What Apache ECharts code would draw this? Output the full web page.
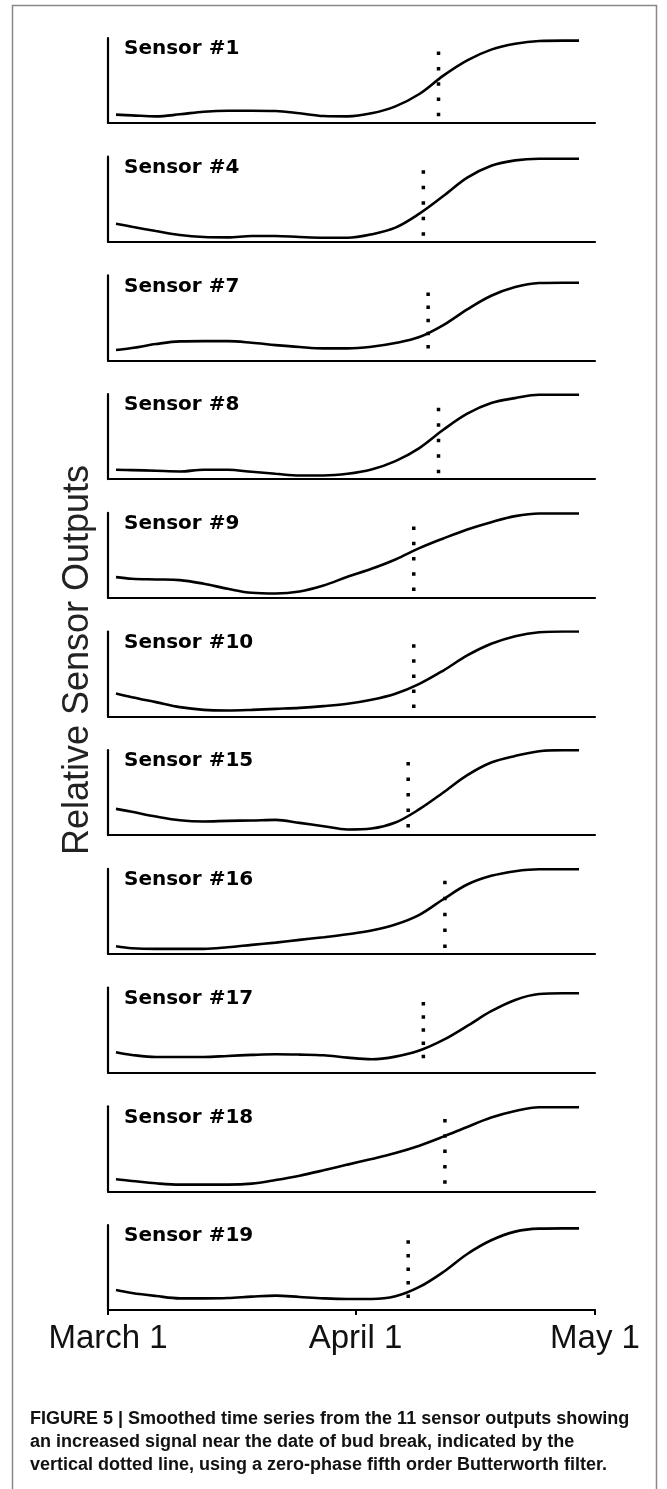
<!doctype html>
<html>
<head>
<meta charset="utf-8">
<title>Figure 5</title>
<style>
  body { margin: 0; background: #fff; }
  #chart { width: 667px; height: 1489px; }
</style>
</head>
<body>
<div id="chart"></div>
<script src="https://cdn.jsdelivr.net/npm/echarts@6/dist/echarts.min.js"></script>
<script>
// days since March 1 at which the curves were read
var sampleDays = [1, 3, 6, 9, 12, 15, 18, 21, 24, 27, 30, 33, 36, 39, 42, 45, 48, 51, 54, 57, 59];

var sensorNames = ['Sensor #1', 'Sensor #4', 'Sensor #7', 'Sensor #8', 'Sensor #9', 'Sensor #10',
    'Sensor #15', 'Sensor #16', 'Sensor #17', 'Sensor #18', 'Sensor #19'];

// relative output, 0 = x axis, 100 = top of y axis
var sensor1  = [9.8, 9.0, 7.8, 10.2, 13.3, 14.5, 14.5, 14.1, 11.4, 8.2, 7.8, 11.4, 19.6, 34.1, 55.7, 73.7, 86.3, 93.3, 96.5, 96.9, 96.9];
var sensor4  = [21.2, 17.6, 12.5, 7.8, 5.5, 5.1, 6.7, 6.7, 5.5, 4.7, 4.7, 8.6, 16.5, 33.0, 53.7, 75.3, 89.4, 95.7, 97.6, 97.6, 97.6];
var sensor7  = [12.2, 14.5, 19.2, 22.4, 22.7, 22.7, 20.8, 18.0, 15.7, 14.1, 14.1, 16.1, 20.4, 27.5, 41.6, 60.0, 76.0, 86.3, 91.0, 91.4, 91.4];
var sensor8  = [11.0, 10.6, 9.8, 9.0, 11.0, 11.0, 8.6, 6.3, 4.3, 4.3, 6.3, 11.4, 21.2, 36.5, 58.0, 76.9, 89.4, 95.3, 99.2, 99.2, 99.2];
var sensor9  = [24.3, 22.4, 21.6, 20.8, 16.5, 10.6, 5.9, 5.1, 7.5, 14.5, 24.7, 34.1, 45.1, 58.4, 69.8, 80.4, 89.0, 96.1, 99.2, 99.2, 99.2];
var sensor10 = [27.1, 22.7, 16.9, 11.0, 7.8, 7.1, 7.8, 9.0, 10.2, 12.2, 14.9, 19.6, 26.7, 38.4, 54.1, 71.8, 85.5, 94.5, 99.2, 100, 100];
var sensor15 = [31.0, 27.5, 22.0, 17.6, 16.1, 16.9, 17.3, 18.0, 14.5, 10.6, 6.7, 7.8, 14.9, 30.6, 50.2, 70.6, 85.5, 93.3, 98.8, 100, 100];
var sensor16 = [9.0, 6.7, 5.9, 5.9, 5.9, 7.8, 10.6, 13.3, 16.5, 19.6, 23.1, 27.5, 34.5, 45.9, 64.3, 81.6, 91.8, 97.3, 99.6, 99.6, 99.6];
var sensor17 = [23.9, 20.8, 18.4, 18.4, 18.4, 19.6, 20.8, 21.6, 21.2, 20.4, 17.6, 15.7, 18.8, 25.9, 38.4, 54.9, 72.2, 85.5, 92.5, 93.3, 93.3];
var sensor18 = [14.1, 12.2, 9.4, 7.8, 7.8, 7.8, 9.0, 13.3, 18.4, 24.7, 31.4, 38.0, 45.1, 53.7, 64.3, 75.7, 86.7, 94.5, 98.8, 98.8, 98.8];
var sensor19 = [23.5, 20.0, 16.5, 13.7, 13.7, 14.1, 15.7, 16.9, 15.3, 13.7, 12.9, 12.9, 16.1, 27.1, 44.7, 65.9, 82.0, 92.2, 95.7, 96.0, 96.0];
var sensorValues = [sensor1, sensor4, sensor7, sensor8, sensor9, sensor10, sensor15, sensor16, sensor17, sensor18, sensor19];

// bud break date (days since March 1) and the extent of the dotted marker
var budBreakDays = [41.4, 39.5, 40.1, 41.4, 38.3, 38.3, 37.6, 42.2, 39.5, 42.2, 37.6];
var dotTop    = [84, 84, 80, 84, 84, 85, 86, 86, 83, 85, 82];
var dotBottom = [8, 7, 14, 7, 8, 10, 9, 7, 17, 9, 14];

var dateTicks = [0, 31, 61];
var dateLabels = ['March 1', 'April 1', 'May 1'];

var captionLines = [
    'FIGURE 5 | Smoothed time series from the 11 sensor outputs showing',
    'an increased signal near the date of bud break, indicated by the',
    'vertical dotted line, using a zero-phase fifth order Butterworth filter.'
];

// layout
var gridLeft = 108, gridWidth = 487, gridHeight = 85, firstTop = 38, step = 118.7;
var dot = 3.5;

var grids = [], xAxes = [], yAxes = [], series = [], graphics = [];
var last = sensorNames.length - 1;

for (var i = 0; i < sensorNames.length; i++) {
    var gridTop = firstTop + i * step;
    grids.push({ left: gridLeft, top: gridTop, width: gridWidth, height: gridHeight });

    xAxes.push({
        type: 'value', gridIndex: i, min: 0, max: 61,
        axisLine: { show: true, onZero: false, lineStyle: { color: '#000', width: 2.2 } },
        axisTick: i === last ? { show: true, customValues: dateTicks, length: 5, lineStyle: { color: '#000', width: 2 } } : { show: false },
        axisLabel: i === last ? {
            show: true, customValues: dateTicks, margin: 12,
            fontSize: 33, fontFamily: 'Liberation Sans', color: '#111',
            formatter: function (v) { return dateLabels[dateTicks.indexOf(v)]; }
        } : { show: false },
        splitLine: { show: false }
    });
    yAxes.push({
        type: 'value', gridIndex: i, min: 0, max: 100,
        axisLine: { show: true, lineStyle: { color: '#000', width: 2.2 } },
        axisTick: { show: false }, axisLabel: { show: false }, splitLine: { show: false }
    });

    var pts = sampleDays.map(function (d, k) { return [d, sensorValues[i][k]]; });
    series.push({
        type: 'line', xAxisIndex: i, yAxisIndex: i, data: pts,
        smooth: 0.35, symbol: 'none', silent: true,
        lineStyle: { color: '#000', width: 2.6 }
    });

    // dotted marker: five square dots from dotTop to dotBottom
    var lenPx = (dotTop[i] - dotBottom[i]) / 100 * gridHeight;
    var gap = (lenPx - dot) / 4 - dot;
    series.push({
        type: 'line', xAxisIndex: i, yAxisIndex: i,
        data: [[budBreakDays[i], dotTop[i]], [budBreakDays[i], dotBottom[i]]],
        symbol: 'none', silent: true,
        lineStyle: { color: '#000', width: dot, type: [dot, gap], cap: 'butt' }
    });

    graphics.push({
        type: 'text', x: 124, y: gridTop + 1,
        style: { text: sensorNames[i], fontFamily: 'DejaVu Sans', fontWeight: 'bold', fontSize: 20, fill: '#000', verticalAlign: 'top' }
    });
}

// frame
graphics.push({
    type: 'rect', shape: { x: 12.5, y: 5.5, width: 644, height: 1520 },
    style: { fill: 'none', stroke: '#888', lineWidth: 1.5 }
});
// y axis title
graphics.push({
    type: 'text', x: 78, y: 660, rotation: Math.PI / 2,
    style: { text: 'Relative Sensor Outputs', fontFamily: 'Liberation Sans', fontSize: 36, fill: '#222', align: 'center', verticalAlign: 'middle' }
});
// caption
graphics.push({
    type: 'text', x: 30, y: 1408,
    style: { text: captionLines.join('\n'), fontFamily: 'Liberation Sans', fontWeight: 'bold', fontSize: 18, lineHeight: 23, fill: '#111', verticalAlign: 'top' }
});

var myChart = echarts.init(document.getElementById('chart'));
myChart.setOption({
    animation: false,
    backgroundColor: '#fff',
    grid: grids,
    xAxis: xAxes,
    yAxis: yAxes,
    series: series,
    graphic: graphics
});
</script>
</body>
</html>
